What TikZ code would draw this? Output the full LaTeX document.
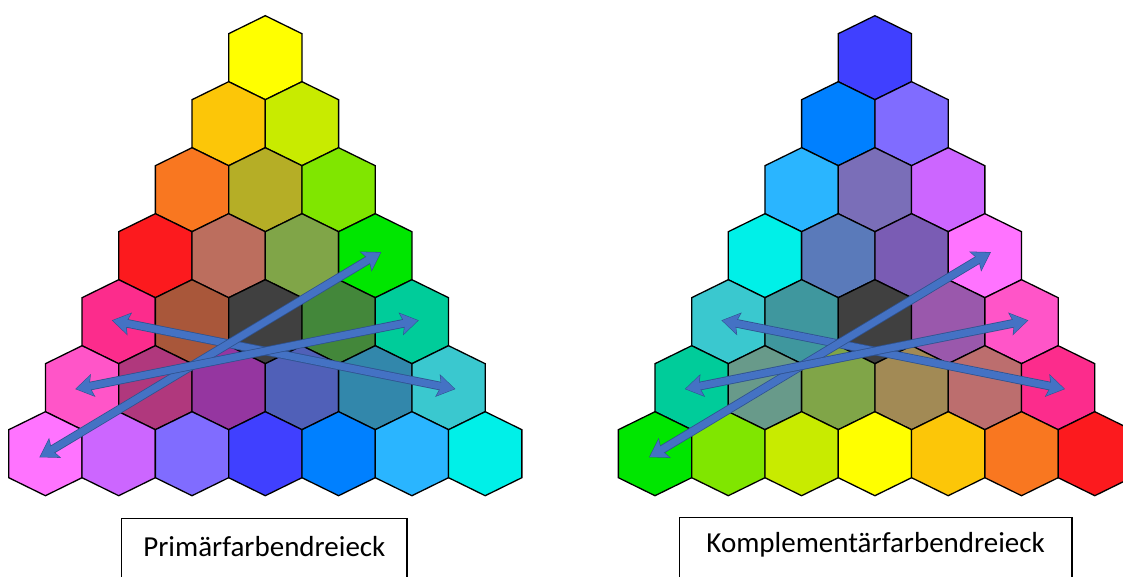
\documentclass[tikz,border=0pt]{standalone}
\usepackage{fontspec}
\setmainfont{Carlito}
\usepackage{tikz}
\usetikzlibrary{arrows.meta}

\definecolor{hYellow}{HTML}{FFFF00}
\definecolor{hAmber}{HTML}{FCC608}
\definecolor{hChartreuse}{HTML}{C8EB00}
\definecolor{hOrange}{HTML}{F97720}
\definecolor{hOlive}{HTML}{B5AE26}
\definecolor{hLime}{HTML}{80E600}
\definecolor{hRed}{HTML}{FC1A1E}
\definecolor{hRosy}{HTML}{BC6E5E}
\definecolor{hMoss}{HTML}{80A548}
\definecolor{hGreen}{HTML}{00E600}
\definecolor{hRose}{HTML}{FC2C8C}
\definecolor{hBrown}{HTML}{A9573A}
\definecolor{hGrey}{HTML}{404040}
\definecolor{hForest}{HTML}{43873A}
\definecolor{hJade}{HTML}{00CC9A}
\definecolor{hPink}{HTML}{FF55C8}
\definecolor{hPlum}{HTML}{B0387D}
\definecolor{hPurple}{HTML}{9536A0}
\definecolor{hIndigo}{HTML}{5060B8}
\definecolor{hSteel}{HTML}{3287AB}
\definecolor{hTurq}{HTML}{3AC8CF}
\definecolor{hMagenta}{HTML}{FF73FF}
\definecolor{hViolet}{HTML}{CC66FF}
\definecolor{hLavender}{HTML}{806CFF}
\definecolor{hBlue}{HTML}{4040FF}
\definecolor{hAzure}{HTML}{0080FF}
\definecolor{hSky}{HTML}{2AB5FF}
\definecolor{hCyan}{HTML}{00F0E8}
\definecolor{hMauve}{HTML}{7A6EB8}
\definecolor{hDenim}{HTML}{5A7ABA}
\definecolor{hIris}{HTML}{7A5CB4}
\definecolor{hTeal}{HTML}{3F979E}
\definecolor{hOrchid}{HTML}{9A58AC}
\definecolor{hSage}{HTML}{689A8A}
\definecolor{hTan}{HTML}{A28A55}
\definecolor{hRosyB}{HTML}{BC6E6E}
\definecolor{arrowblue}{HTML}{4472C4}
\definecolor{arrowedge}{HTML}{2F528F}

\begin{document}
\begin{tikzpicture}[x=1pt, y=-1pt,
    hexcell/.style={draw=black, line width=1.3pt},
    mixarrow/.style={draw=arrowblue, line width=7pt,
      {Stealth[length=16pt,width=20pt,inset=3pt]}-{Stealth[length=16pt,width=20pt,inset=3pt]},
      shorten <=-6pt, shorten >=-6pt,
      preaction={draw=arrowedge, line width=8.6pt,
        {Stealth[length=18pt,width=22.5pt,inset=3.4pt]}-{Stealth[length=18pt,width=22.5pt,inset=3.4pt]},
        shorten <=-7pt, shorten >=-7pt}},
    labelbox/.style={draw=black, line width=1.4pt, anchor=north, inner ysep=18pt,
      text height=20pt, text depth=40pt, font=\fontsize{29}{34}\selectfont}]
  \useasboundingbox (0,0) rectangle (1123,577);
  \clip (0,0) rectangle (1123,577);

  % Primaerfarben
  \foreach \rw/\cols in {0/{hYellow}, 1/{hAmber,hChartreuse}, 2/{hOrange,hOlive,hLime},
      3/{hRed,hRosy,hMoss,hGreen}, 4/{hRose,hBrown,hGrey,hForest,hJade},
      5/{hPink,hPlum,hPurple,hIndigo,hSteel,hTurq},
      6/{hMagenta,hViolet,hLavender,hBlue,hAzure,hSky,hCyan}}{
    \foreach \col [count=\k from 0] in \cols {
      \coordinate (L-\rw-\k) at ({265.3+(\k-\rw/2)*73.3}, {57.7+\rw*66});
      \draw[hexcell, fill=\col, shift={(L-\rw-\k)}] (0,-42) -- (36.65,-24) -- (36.65,24)
        -- (0,42) -- (-36.65,24) -- (-36.65,-24) -- cycle;
    }
  }

  % Komplementaerfarben
  \foreach \rw/\cols in {0/{hBlue}, 1/{hAzure,hLavender}, 2/{hSky,hMauve,hViolet},
      3/{hCyan,hDenim,hIris,hMagenta}, 4/{hTurq,hTeal,hGrey,hOrchid,hPink},
      5/{hJade,hSage,hMoss,hTan,hRosyB,hRose},
      6/{hGreen,hLime,hChartreuse,hYellow,hAmber,hOrange,hRed}}{
    \foreach \col [count=\k from 0] in \cols {
      \coordinate (R-\rw-\k) at ({874.9+(\k-\rw/2)*73.3}, {57.7+\rw*66});
      \draw[hexcell, fill=\col, shift={(R-\rw-\k)}] (0,-42) -- (36.65,-24) -- (36.65,24)
        -- (0,42) -- (-36.65,24) -- (-36.65,-24) -- cycle;
    }
  }

  \foreach \tri in {L,R}{
    \draw[mixarrow] (\tri-4-0) -- (\tri-5-5);
    \draw[mixarrow] (\tri-6-0) -- (\tri-3-3);
    \draw[mixarrow] (\tri-5-0) -- (\tri-4-4);
  }

  \node[labelbox, minimum width=285.3pt] (boxL) at (264.35,517.7) {Primärfarbendreieck};
  \node[labelbox, minimum width=392.7pt, text height=17.3pt] (boxR) at (875.65,516.7) {Komplementärfarbendreieck};
\end{tikzpicture}
\end{document}
